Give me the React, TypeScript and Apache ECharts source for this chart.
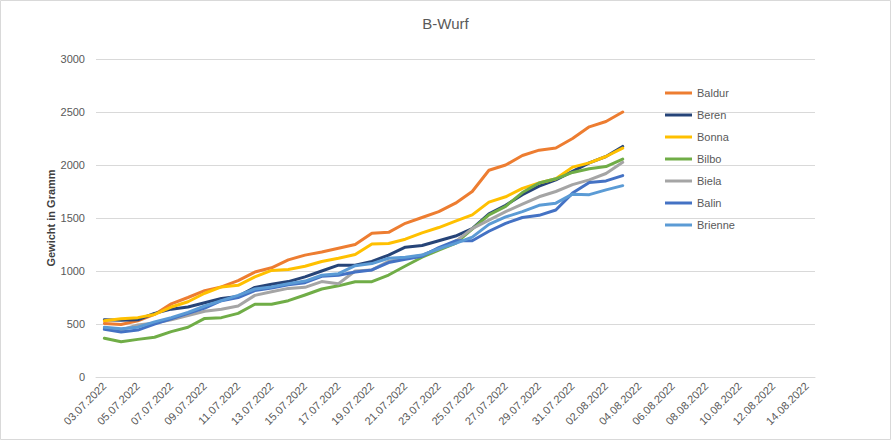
import React, { useEffect, useRef } from "react";
import * as echarts from "echarts";

const categories = [
  "03.07.2022", "04.07.2022", "05.07.2022", "06.07.2022", "07.07.2022", "08.07.2022",
  "09.07.2022", "10.07.2022", "11.07.2022", "12.07.2022", "13.07.2022", "14.07.2022",
  "15.07.2022", "16.07.2022", "17.07.2022", "18.07.2022", "19.07.2022", "20.07.2022",
  "21.07.2022", "22.07.2022", "23.07.2022", "24.07.2022", "25.07.2022", "26.07.2022",
  "27.07.2022", "28.07.2022", "29.07.2022", "30.07.2022", "31.07.2022", "01.08.2022",
  "02.08.2022", "03.08.2022", "04.08.2022", "05.08.2022", "06.08.2022", "07.08.2022",
  "08.08.2022", "09.08.2022", "10.08.2022", "11.08.2022", "12.08.2022", "13.08.2022",
  "14.08.2022",
];

const baldur = [505, 495, 530, 590, 690, 750, 815, 850, 910, 990, 1030, 1105, 1150, 1180, 1215, 1250, 1355, 1365, 1450, 1505, 1560, 1640, 1750, 1950, 2000, 2090, 2140, 2160, 2250, 2360, 2410, 2500];
const beren = [540, 535, 540, 600, 640, 660, 700, 740, 760, 845, 875, 900, 945, 1000, 1055, 1055, 1090, 1150, 1225, 1240, 1285, 1330, 1400, 1540, 1620, 1720, 1800, 1860, 1940, 2020, 2080, 2175];
const bonna = [530, 550, 560, 590, 660, 710, 790, 850, 865, 945, 1005, 1015, 1045, 1090, 1120, 1155, 1255, 1260, 1300, 1360, 1410, 1470, 1530, 1650, 1700, 1780, 1830, 1870, 1980, 2020, 2080, 2160];
const bilbo = [365, 333, 355, 375, 428, 469, 553, 560, 600, 686, 686, 720, 774, 830, 860, 899, 899, 962, 1047, 1130, 1198, 1261, 1395, 1530, 1610, 1740, 1830, 1870, 1930, 1965, 1985, 2055];
const biela = [460, 445, 490, 510, 540, 580, 620, 640, 670, 770, 805, 836, 846, 900, 880, 1000, 1010, 1090, 1120, 1150, 1210, 1280, 1400, 1480, 1560, 1630, 1700, 1750, 1815, 1860, 1920, 2025];
const balin = [450, 425, 443, 500, 550, 600, 650, 720, 750, 815, 840, 870, 890, 950, 960, 990, 1010, 1080, 1110, 1140, 1220, 1285, 1285, 1375, 1450, 1505, 1525, 1575, 1735, 1835, 1850, 1900];
const brienne = [470, 455, 470, 520, 560, 610, 670, 720, 770, 830, 850, 880, 905, 960, 975, 1050, 1070, 1120, 1130, 1150, 1210, 1260, 1320, 1440, 1510, 1560, 1620, 1640, 1725, 1720, 1765, 1805];

const seriesNames = ["Baldur", "Beren", "Bonna", "Bilbo", "Biela", "Balin", "Brienne"];
const seriesValues = [baldur, beren, bonna, bilbo, biela, balin, brienne];
const seriesColors = ["#ED7D31", "#264478", "#FFC000", "#70AD47", "#A5A5A5", "#4472C4", "#5B9BD5"];

const FONT = "Liberation Sans, Arial, sans-serif";

export default function App() {
  const ref = useRef<HTMLDivElement>(null);
  useEffect(() => {
    if (!ref.current) return;
    const chart = echarts.init(ref.current, null, { renderer: "svg" });
    chart.setOption({
      animation: false,
      backgroundColor: "#ffffff",
      title: {
        text: "B-Wurf",
        left: "center",
        top: 11,
        textStyle: { fontFamily: FONT, fontSize: 15, fontWeight: "normal", color: "#595959" },
      },
      graphic: [
        {
          type: "rect",
          shape: { x: 0.5, y: 0.5, width: 890, height: 439 },
          style: { fill: "none", stroke: "#d9d9d9", lineWidth: 1 },
          silent: true,
        },
      ],
      legend: {
        orient: "vertical",
        left: 660,
        top: 81,
        icon: "rect",
        itemWidth: 27,
        itemHeight: 3,
        itemGap: 8,
        selectedMode: false,
        data: seriesNames,
        textStyle: { fontFamily: FONT, fontSize: 11, color: "#595959", lineHeight: 14 },
      },
      grid: { left: 96, right: 76, top: 59, bottom: 63, containLabel: false },
      xAxis: {
        type: "category",
        data: categories,
        boundaryGap: true,
        axisLine: { lineStyle: { color: "#d9d9d9", width: 1 } },
        axisTick: { interval: 1, length: 5, lineStyle: { color: "#d9d9d9" } },
        axisLabel: {
          interval: 1,
          rotate: 45,
          margin: 7,
          fontFamily: FONT,
          fontSize: 11,
          color: "#595959",
        },
        splitLine: { show: false },
      },
      yAxis: {
        type: "value",
        min: 0,
        max: 3000,
        interval: 500,
        name: "Gewicht in Gramm",
        nameLocation: "middle",
        nameGap: 40,
        nameMoveOverlap: false,
        nameRotate: 90,
        nameTextStyle: { fontFamily: FONT, fontSize: 11, fontWeight: "bold", color: "#404040" },
        axisLine: { show: false },
        axisTick: { show: false },
        axisLabel: {
          margin: 11,
          fontFamily: FONT,
          fontSize: 11,
          color: "#595959",
          formatter: (v: number) => String(v),
        },
        splitLine: { lineStyle: { color: "#d9d9d9", width: 1 } },
      },
      series: seriesNames.map((name, i) => ({
        name,
        type: "line",
        data: seriesValues[i],
        symbol: "none",
        color: seriesColors[i],
        lineStyle: { width: 3, color: seriesColors[i], cap: "round", join: "round" },
      })),
    });
    return () => chart.dispose();
  }, []);
  return <div ref={ref} style={{ position: "absolute", left: 0, top: 0, width: 891, height: 440 }} />;
}
